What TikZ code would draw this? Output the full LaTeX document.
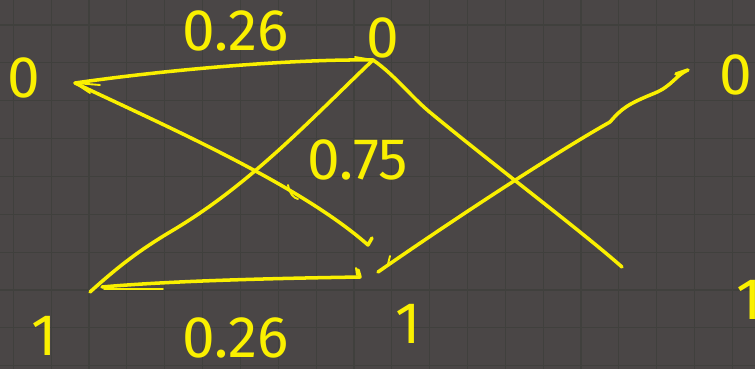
\documentclass[tikz,border=0pt]{standalone}
\usepackage{fontspec}
\setmainfont{Fira Sans}
\definecolor{bg}{RGB}{74,70,70}
\definecolor{gridc}{RGB}{64,64,61}
\definecolor{ink}{RGB}{250,240,0}
\tikzset{
  ink/.style={draw=ink, line width=3pt, line cap=round, line join=round},
  thin ink/.style={draw=ink, line width=1.6pt, line cap=round},
  lab/.style={text=ink, inner sep=0pt, font=\fontsize{50}{50}\selectfont},
}
\begin{document}
\begin{tikzpicture}[x=0.3mm, y=-0.3mm]
\useasboundingbox (0,0) rectangle (755,369);
\clip (0,0) rectangle (755,369);
\fill[bg] (0,0) rectangle (755,369);
\foreach \i in {0,...,19} {
  \draw[gridc, line width=1pt] ({13.3+37.85*\i},0) -- ({13.3+37.85*\i},369);
}
\foreach \j in {0,...,9} {
  \draw[gridc, line width=1pt] (0,{25+37.85*\j}) -- (755,{25+37.85*\j});
}
% labels
\node[lab] (l0) at (24,78) {0};
\node[lab] (m0) at (383,38) {0};
\node[lab] (r0) at (736,75) {0};
\node[lab] (l1) at (44,336) {1};
\node[lab] (m1) at (408,324) {1};
\node[lab] (r1) at (749,300) {1};
\node[lab] (p1) at (236,31) {0.26};
\node[lab] (p2) at (358,160) {0.75};
\node[lab] (p3) at (236,338) {0.26};
% hubs / ends
\coordinate (a) at (75,83);
\coordinate (b) at (373,60);
\coordinate (c) at (90,292);
\coordinate (c2) at (102,287);
\coordinate (d) at (368,245);
\coordinate (e) at (360,277);
\coordinate (f) at (378,272);
\coordinate (g) at (622,267);
\coordinate (h) at (688,70);
% connectors
\draw[ink] (a) .. controls (180,68) and (300,59) .. (b);
\draw[ink] (a) .. controls (170,128) and (300,185) .. (d) -- (372,238);
\draw[ink] (c) .. controls (120,265) and (140,250) .. (170,232) .. controls (250,185) and (310,120) .. (b);
\draw[ink] (c2) .. controls (180,280) and (300,278) .. (e) -- (358,270);
\draw[thin ink] (104,289) -- (163,289);
\draw[ink] (b) .. controls (395,75) and (412,98) .. (432,114) .. controls (500,170) and (580,230) .. (g);
\draw[ink] (f) .. controls (460,215) and (560,150) .. (610,122) .. controls (622,108) and (628,104) .. (655,93) .. controls (672,86) and (676,75) .. (h) -- (676,74);
% hand-drawn ticks
\draw[thin ink] (a) -- (100,85);
\draw[thin ink] (a) -- (90,93);
\draw[thin ink] (355,57) -- (b);
\draw[thin ink] (288,185) .. controls (290,195) and (294,198) .. (298,199);
\draw[thin ink] (388,264) -- (390,256);
\draw[thin ink] (357,275) -- (356,268);
\end{tikzpicture}
\end{document}
